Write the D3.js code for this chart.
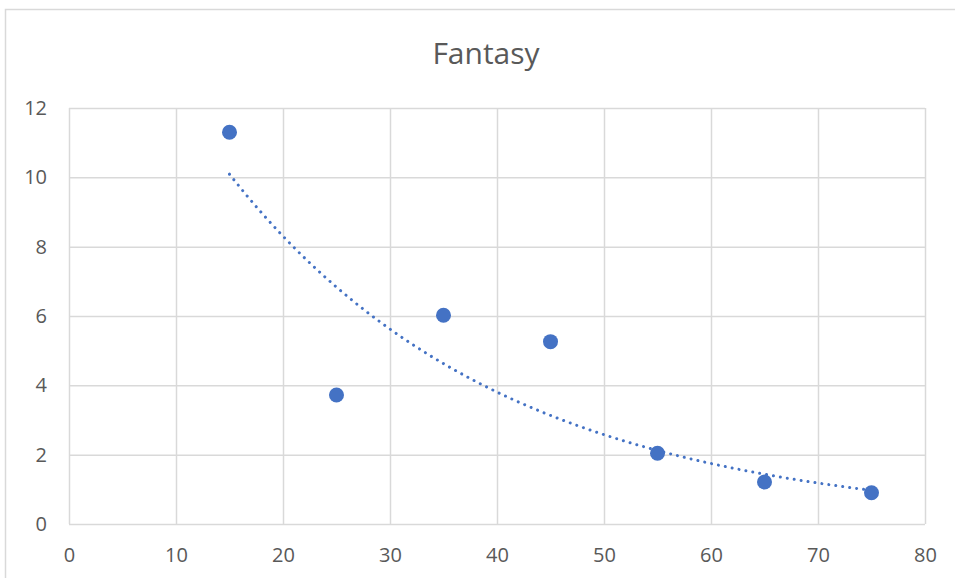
<!DOCTYPE html>
<html><head><meta charset="utf-8">
<script src="https://cdn.jsdelivr.net/npm/d3@7"></script>
<style>body{margin:0;background:#fff}svg{display:block}</style>
</head><body>
<script>
const title = "Fantasy";
const xValues = [15, 25, 35, 45, 55, 65, 75];
const yValues = [11.3, 3.72, 6.02, 5.26, 2.04, 1.21, 0.9];
const xTicks = [0, 10, 20, 30, 40, 50, 60, 70, 80];
const yTicks = [0, 2, 4, 6, 8, 10, 12];

const W = 955, H = 578;
const svg = d3.select("body").append("svg").attr("width", W).attr("height", H);
svg.append("rect").attr("x", 5.5).attr("y", 9.5).attr("width", 960).attr("height", 600)
  .attr("fill", "#fff").attr("stroke", "#d9d9d9").attr("stroke-width", 1.5);

const x = d3.scaleLinear().domain([0, 80]).range([69, 925]);
const y = d3.scaleLinear().domain([0, 12]).range([524, 108]);
const font = "'Open Sans', 'Liberation Sans', sans-serif";
const txt = "#595959", grid = "#d9d9d9", blue = "#4472C4";

svg.append("text").attr("x", 486).attr("y", 64).attr("text-anchor", "middle")
  .attr("font-family", font).attr("font-size", 30).attr("fill", txt).text(title);

const gx = svg.append("g").attr("transform", "translate(0,524)")
  .call(d3.axisBottom(x).tickValues(xTicks).tickSize(-416).tickPadding(24).tickFormat(d3.format("d")));
const gy = svg.append("g").attr("transform", "translate(69,0)")
  .call(d3.axisLeft(y).tickValues(yTicks).tickSize(-856).tickPadding(22).tickFormat(d3.format("d")));
[gx, gy].forEach(g => {
  g.select(".domain").remove();
  g.selectAll(".tick line").attr("stroke", grid).attr("stroke-width", 1.5);
  g.selectAll(".tick text").attr("fill", txt).attr("font-family", font).attr("font-size", 20);
});
gx.selectAll(".tick text").attr("dy", "0.71em");

// exponential regression trendline from the data
const lx = xValues, ly = yValues.map(Math.log);
const mx = d3.mean(lx), my = d3.mean(ly);
const b = d3.sum(lx.map((v, i) => (v - mx) * (ly[i] - my))) / d3.sum(lx.map(v => (v - mx) ** 2));
const a = Math.exp(my - b * mx);
const xs = d3.range(d3.min(xValues), d3.max(xValues) + 0.001, 0.5);
svg.append("path").datum(xs)
  .attr("d", d3.line().x(d => x(d)).y(d => y(a * Math.exp(b * d))))
  .attr("fill", "none").attr("stroke", blue).attr("stroke-width", 3)
  .attr("stroke-linecap", "round").attr("stroke-dasharray", "0.01 7");

svg.append("g").selectAll("circle").data(xValues).join("circle")
  .attr("cx", d => x(d)).attr("cy", (d, i) => y(yValues[i])).attr("r", 7.5)
  .attr("fill", blue);
</script>
</body></html>
